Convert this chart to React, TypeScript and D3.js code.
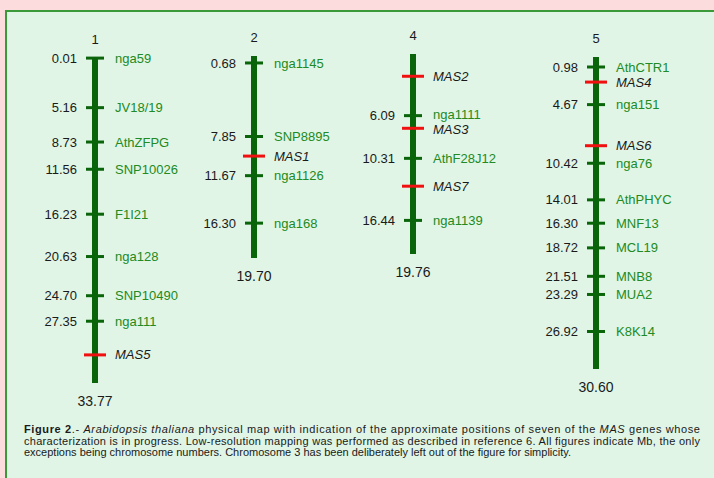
import React from "react";
import * as d3 from "d3";

// ---- data ----
const chromosomeNames = ["1", "2", "4", "5"];
const chromosomeLengths = [33.77, 19.7, 19.76, 30.6];

const chr1Markers = ["nga59", "JV18/19", "AthZFPG", "SNP10026", "F1I21", "nga128", "SNP10490", "nga111"];
const chr1Positions = [0.01, 5.16, 8.73, 11.56, 16.23, 20.63, 24.7, 27.35];
const chr1Genes = ["MAS5"];
const chr1GenePositions = [30.85];

const chr2Markers = ["nga1145", "SNP8895", "nga1126", "nga168"];
const chr2Positions = [0.68, 7.85, 11.67, 16.3];
const chr2Genes = ["MAS1"];
const chr2GenePositions = [9.76];

const chr4Markers = ["nga1111", "AthF28J12", "nga1139"];
const chr4Positions = [6.09, 10.31, 16.44];
const chr4Genes = ["MAS2", "MAS3", "MAS7"];
const chr4GenePositions = [2.2, 7.34, 13.06];

const chr5Markers = ["AthCTR1", "nga151", "nga76", "AthPHYC", "MNF13", "MCL19", "MNB8", "MUA2", "K8K14"];
const chr5Positions = [0.98, 4.67, 10.42, 14.01, 16.3, 18.72, 21.51, 23.29, 26.92];
const chr5Genes = ["MAS4", "MAS6"];
const chr5GenePositions = [2.46, 8.7];

const markerNames = [chr1Markers, chr2Markers, chr4Markers, chr5Markers];
const markerPositions = [chr1Positions, chr2Positions, chr4Positions, chr5Positions];
const geneNames = [chr1Genes, chr2Genes, chr4Genes, chr5Genes];
const genePositions = [chr1GenePositions, chr2GenePositions, chr4GenePositions, chr5GenePositions];

// ---- layout ----
const W = 714;
const H = 478;
const barX = [95, 254, 413, 596];
const barTop = [58, 56, 54, 57];
const barBottom = [383, 258, 254, 369];
const MIN_GAP = 15;

const FONT = "'Liberation Sans', Arial, Helvetica, sans-serif";
const DARK = "#0a640a";
const NAME_GREEN = "#228a22";
const RED = "#f01010";
const TXT = "#1a1a1a";

type Lab = { text: string; y: number; gene: boolean; ly: number };

// push right-hand labels apart so they never collide
function relax(labels: Lab[]): Lab[] {
  const s = labels.slice().sort((a, b) => a.y - b.y);
  s.forEach((l) => (l.ly = l.y));
  for (let it = 0; it < 50; it++) {
    let moved = false;
    for (let k = 1; k < s.length; k++) {
      const gap = s[k].ly - s[k - 1].ly;
      if (gap < MIN_GAP) {
        const d = (MIN_GAP - gap) / 2;
        s[k - 1].ly -= d;
        s[k].ly += d;
        moved = true;
      }
    }
    if (!moved) break;
  }
  return s;
}

export default function App() {
  return (
    <svg
      width={W}
      height={H}
      style={{ position: "absolute", left: 0, top: 0, display: "block" }}
      fontFamily={FONT}
    >
      <rect x={0} y={0} width={W} height={H} fill="#fcdcdc" />
      <rect x={6} y={11} width={W + 20} height={H + 20} fill="#e0f5e6" stroke="#3a9a3a" strokeWidth={2} />

      {chromosomeNames.map((name, i) => {
        const y = d3.scaleLinear().domain([0, chromosomeLengths[i]]).range([barTop[i], barBottom[i]]);
        const x = barX[i];
        const len = chromosomeLengths[i];
        const labels = relax([
          ...markerPositions[i].map((p, j) => ({ text: markerNames[i][j], y: y(p), gene: false, ly: 0 })),
          ...genePositions[i].map((p, j) => ({ text: geneNames[i][j], y: y(p), gene: true, ly: 0 })),
        ]);
        return (
          <g key={name}>
            <text x={x} y={y(0) - 14} textAnchor="middle" fontSize={13} fill={TXT}>
              {name}
            </text>
            <line x1={x} x2={x} y1={y(0)} y2={y(len)} stroke={DARK} strokeWidth={6} />
            {markerPositions[i].map((p, j) => (
              <g key={"m" + j}>
                <line x1={x - 9} x2={x + 9} y1={y(p)} y2={y(p)} stroke={DARK} strokeWidth={3} />
                <text x={x - 18} y={y(p)} dy="0.35em" textAnchor="end" fontSize={13} fill={TXT}>
                  {p.toFixed(2)}
                </text>
              </g>
            ))}
            {genePositions[i].map((p, j) => (
              <line key={"g" + j} x1={x - 11} x2={x + 11} y1={y(p)} y2={y(p)} stroke={RED} strokeWidth={3} />
            ))}
            {labels.map((l) => (
              <text
                key={l.text}
                x={x + 20}
                y={l.ly}
                dy="0.35em"
                textAnchor="start"
                fontSize={13}
                fontStyle={l.gene ? "italic" : "normal"}
                fill={l.gene ? TXT : NAME_GREEN}
              >
                {l.text}
              </text>
            ))}
            <text x={x} y={y(len) + 23} textAnchor="middle" fontSize={14} fill={TXT}>
              {len.toFixed(2)}
            </text>
          </g>
        );
      })}

      <g fontSize={11} fill={TXT}>
        <text x={24} y={433} textLength={676} lengthAdjust="spacing">
          <tspan fontWeight="bold">Figure 2</tspan>
          {".- "}
          <tspan fontStyle="italic">Arabidopsis thaliana</tspan>
          {" physical map with indication of the approximate positions of seven of the "}
          <tspan fontStyle="italic">MAS</tspan>
          {" genes whose"}
        </text>
        <text x={24} y={444.5} textLength={676} lengthAdjust="spacing">
          characterization is in progress. Low-resolution mapping was performed as described in reference 6. All figures indicate Mb, the only
        </text>
        <text x={24} y={456}>
          exceptions being chromosome numbers. Chromosome 3 has been deliberately left out of the figure for simplicity.
        </text>
      </g>
    </svg>
  );
}
